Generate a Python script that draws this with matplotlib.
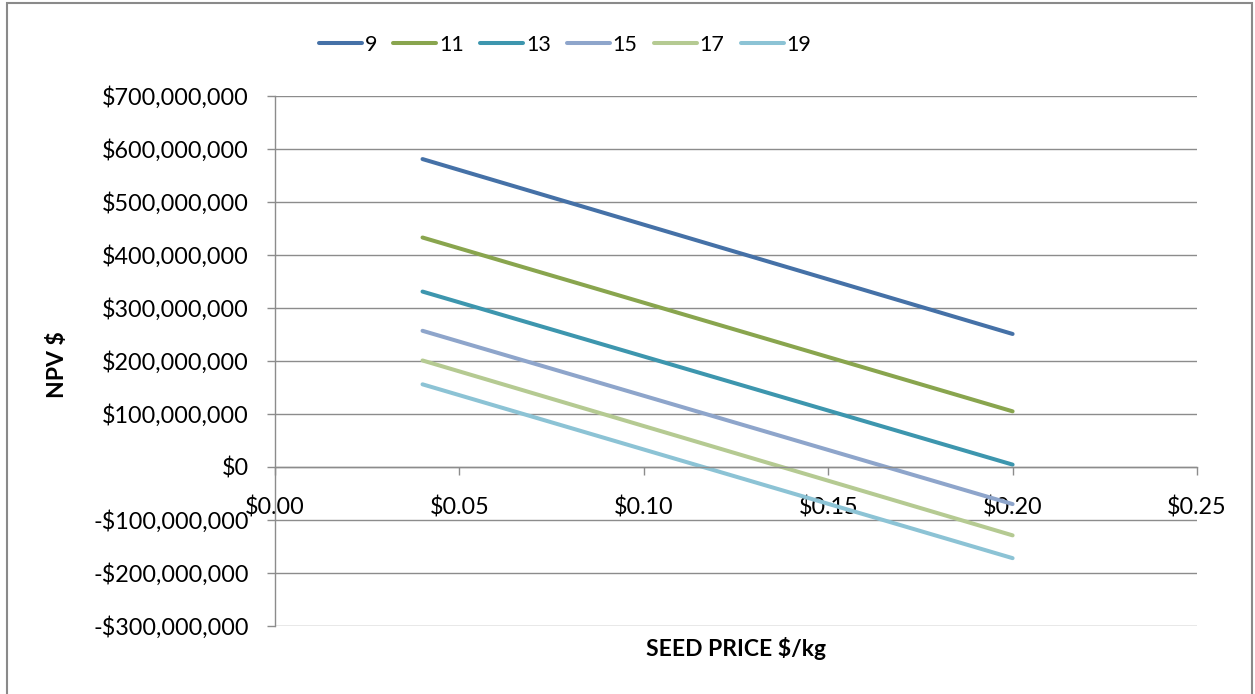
"""NPV sensitivity to seed price for several yield cases."""

import matplotlib

matplotlib.use("Agg")

import matplotlib.pyplot as plt
from matplotlib.patches import Rectangle
from matplotlib.ticker import FuncFormatter, MultipleLocator

# Seed price ($/kg) at the two evaluated points
SEED_PRICE = [0.04, 0.20]

# Case labels and NPV ($) at each seed price
CASES = ["9", "11", "13", "15", "17", "19"]
NPV_9 = [581e6, 251e6]
NPV_11 = [433e6, 105e6]
NPV_13 = [331e6, 4.5e6]
NPV_15 = [257e6, -70e6]
NPV_17 = [201e6, -129e6]
NPV_19 = [156e6, -172e6]

COLORS = ["#4571a7", "#89a54e", "#3d96ae", "#8ea5cb", "#b5ca92", "#8cc3d5"]
GRID = "#8c8c8c"
FS = 16.8

plt.rcParams["font.family"] = ["Lato", "DejaVu Sans"]

W, H = 1255, 694
fig = plt.figure(figsize=(W / 100, H / 100), dpi=100)
fig.patch.set_facecolor("white")

# chart frame (its bottom edge runs off the canvas)
fig.add_artist(Rectangle((7 / W, -0.05), (1252 - 7) / W, 1.05 - 3 / H,
                         transform=fig.transFigure, fill=False,
                         edgecolor="#8a8a8a", lw=1.5))

ax = fig.add_axes([275 / W, 68 / H, 922 / W, 530 / H])

series = [NPV_9, NPV_11, NPV_13, NPV_15, NPV_17, NPV_19]
for name, values, color in zip(CASES, series, COLORS):
    ax.plot(SEED_PRICE, values, color=color, lw=2.9, solid_capstyle="round", label=name)

ax.set_xlim(0, 0.25)
ax.set_ylim(-300e6, 700e6)
ax.xaxis.set_major_locator(MultipleLocator(0.05))
ax.yaxis.set_major_locator(MultipleLocator(100e6))


def money(v, _pos):
    v = int(round(v))
    if v == 0:
        return "$0"
    sign = "-" if v < 0 else ""
    return f"{sign}${abs(v):,}"


ax.yaxis.set_major_formatter(FuncFormatter(money))
ax.xaxis.set_major_formatter(FuncFormatter(lambda v, _p: f"${v:.2f}"))

ax.grid(axis="y", color=GRID, lw=1.0)
ax.set_axisbelow(True)
for side in ["top", "right"]:
    ax.spines[side].set_visible(False)
ax.spines["bottom"].set_position(("data", 0))
for side in ["bottom", "left"]:
    ax.spines[side].set_color(GRID)
    ax.spines[side].set_linewidth(1.0)

ax.tick_params(axis="y", direction="out", length=6, width=1.0, color=GRID,
               labelsize=FS, pad=13)
ax.tick_params(axis="x", direction="out", length=6, width=1.0, color=GRID,
               labelsize=FS, pad=15)

ax.text(0.5, -22 / 530, "SEED PRICE $/kg", transform=ax.transAxes,
        ha="center", va="center", fontsize=16.5, fontweight="bold")
fig.text(58 / W, 1 - 365 / H, "NPV $", rotation=90, ha="center", va="center",
         fontsize=16.5, fontweight="bold")

fig.legend(loc="center", bbox_to_anchor=(565 / W, 1 - 45 / H), ncol=6,
           frameon=False, fontsize=15.5, handlelength=2.0, handletextpad=0.13,
           columnspacing=0.75)

fig.savefig("out.png", dpi=100)
